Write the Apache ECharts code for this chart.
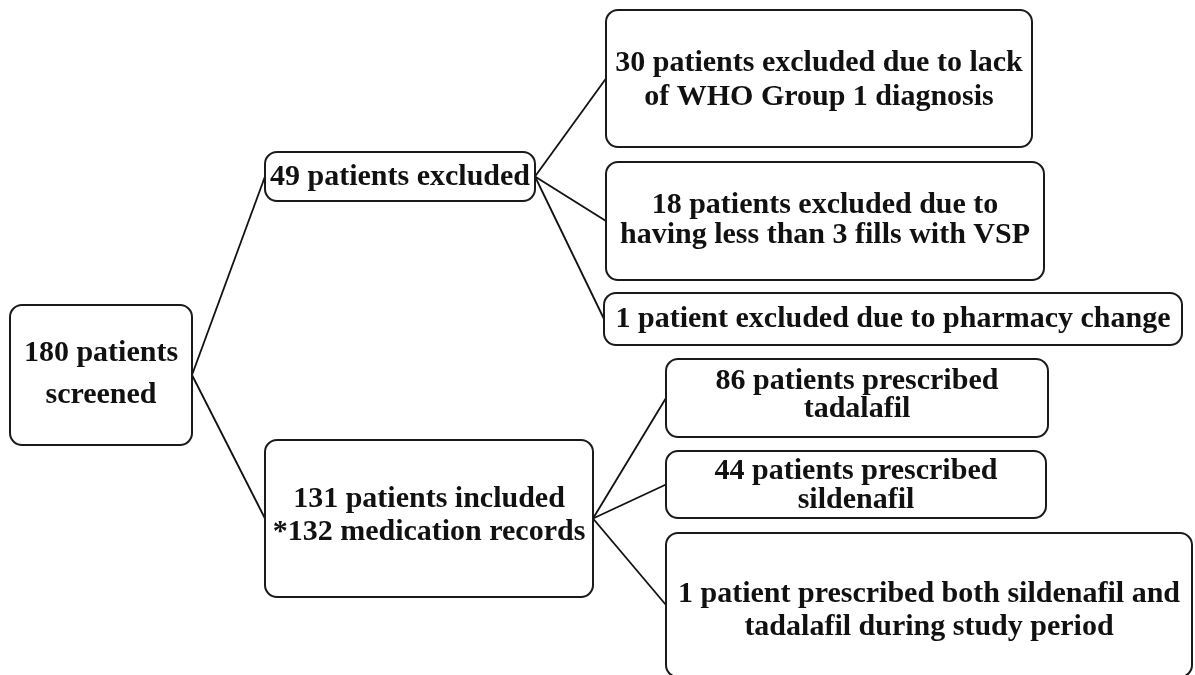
<!DOCTYPE html>
<html>
<head>
<meta charset="utf-8">
<script src="https://cdn.jsdelivr.net/npm/echarts@6/dist/echarts.min.js"></script>
<style>
  html, body { margin: 0; padding: 0; background: #fff; }
  #flow { width: 1195px; height: 675px; }
</style>
</head>
<body>
<div id="flow"></div>
<script>
// box texts
const labels = [
  "180 patients\nscreened",
  "49 patients excluded",
  "131 patients included\n*132 medication records",
  "30 patients excluded due to lack\nof WHO Group 1 diagnosis",
  "18 patients excluded due to\nhaving less than 3 fills with VSP",
  "1 patient excluded due to pharmacy change",
  "86 patients prescribed\ntadalafil",
  "44 patients prescribed\nsildenafil",
  "1 patient prescribed both sildenafil and\ntadalafil during study period"
];
// box extents, in the 1195 x 675 frame
const boxLeft = [10, 265, 265, 606, 606, 604, 666, 666, 666];
const boxTop = [305, 152, 440, 10, 162, 293, 359, 451, 533];
const boxRight = [192, 535, 593, 1032, 1044, 1182, 1048, 1046, 1192];
const boxBottom = [445, 201, 597, 147, 280, 345, 437, 518, 677];
// source -> target
const links = [[0, 1], [0, 2], [1, 3], [1, 4], [1, 5], [2, 6], [2, 7], [2, 8]];

// text placement inside each box (the boxes use different line spacing)
const textMid = [374, 177, 516, 80, 220, 319, 395, 486, 611];
const lineGap = [42, 30, 33, 34, 30, 30, 28, 29, 33];

var myChart = echarts.init(document.getElementById("flow"));

const boxData = labels.map((t, i) => [boxLeft[i], boxTop[i], boxRight[i], boxBottom[i], textMid[i]]);
const linkData = links.map(([s, t]) => ({
  coords: [
    [boxRight[s], (boxTop[s] + boxBottom[s]) / 2],
    [boxLeft[t], (boxTop[t] + boxBottom[t]) / 2]
  ]
}));

let option = {
  animation: false,
  backgroundColor: "#fff",
  grid: { left: 0, right: 0, top: 0, bottom: 0 },
  xAxis: { type: "value", min: 0, max: 1195, show: false },
  yAxis: { type: "value", min: 0, max: 675, inverse: true, show: false },
  series: [
    {
      type: "lines",
      coordinateSystem: "cartesian2d",
      silent: true,
      lineStyle: { color: "#111", width: 1.8, opacity: 1 },
      data: linkData
    },
    {
      type: "custom",
      coordinateSystem: "cartesian2d",
      silent: true,
      data: boxData,
      renderItem: function (params, api) {
        const p0 = api.coord([api.value(0), api.value(1)]);
        const p1 = api.coord([api.value(2), api.value(3)]);
        const tm = api.coord([0, api.value(4)]);
        return {
          type: "group",
          children: [
            {
              type: "rect",
              shape: { x: p0[0], y: p0[1], width: p1[0] - p0[0], height: p1[1] - p0[1], r: 12 },
              style: { fill: "#fff", stroke: "#1a1a1a", lineWidth: 2 }
            },
            {
              type: "text",
              x: (p0[0] + p1[0]) / 2,
              y: tm[1],
              style: {
                text: labels[params.dataIndex],
                fontFamily: "Liberation Serif",
                fontWeight: "bold",
                fontSize: 30,
                lineHeight: lineGap[params.dataIndex],
                fill: "#111",
                align: "center",
                verticalAlign: "middle"
              }
            }
          ]
        };
      }
    }
  ]
};
myChart.setOption(option);
</script>
</body>
</html>
